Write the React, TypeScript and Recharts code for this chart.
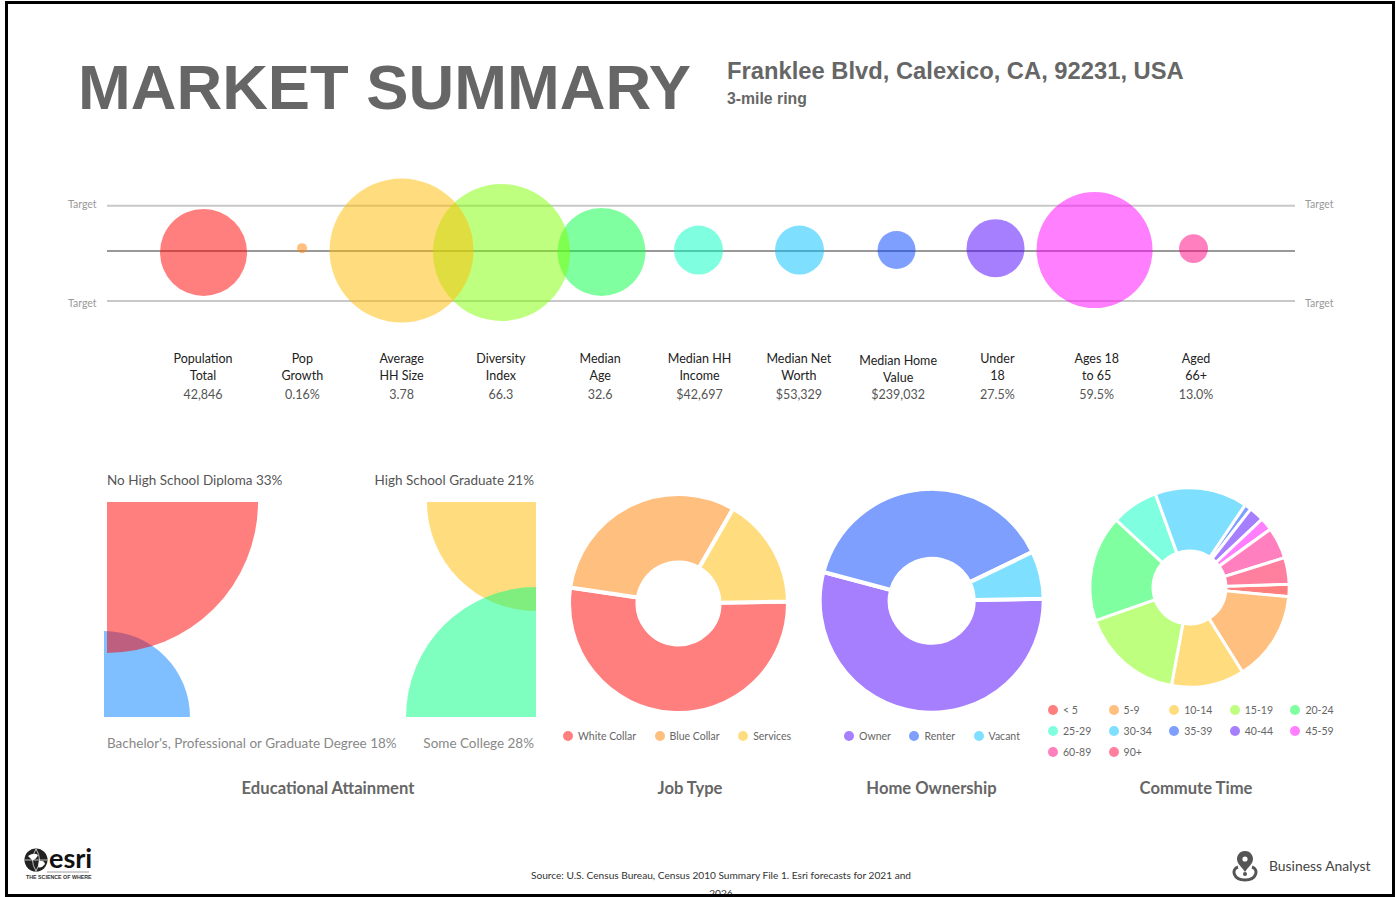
import {
  Cell,
  Legend,
  Pie,
  PieChart,
  ReferenceLine,
  Scatter,
  ScatterChart,
  XAxis,
  YAxis,
  ZAxis,
} from "recharts";

const PALETTE = [
  "#ff0000",
  "#ff7f00",
  "#ffbb00",
  "#80ff00",
  "#00ff40",
  "#00ffc0",
  "#00bfff",
  "#0040ff",
  "#4d00ff",
  "#ff00ff",
  "#ff0080",
  "#ff0040",
];

const LABEL_FONT = "Lato, 'Noto Sans', sans-serif";
const HEAD_FONT = "'Liberation Sans', Arial, sans-serif";

// top strip of bubbles
const metricLine1 = ["Population", "Pop", "Average", "Diversity", "Median", "Median HH", "Median Net", "Median Home", "Under", "Ages 18", "Aged"];
const metricLine2 = ["Total", "Growth", "HH Size", "Index", "Age", "Income", "Worth", "Value", "18", "to 65", "66+"];
const metricValues = ["42,846", "0.16%", "3.78", "66.3", "32.6", "$42,697", "$53,329", "$239,032", "27.5%", "59.5%", "13.0%"];
const metricSlots = [0, 0.995, 2, 3.01, 4.02, 5, 6.02, 7, 8, 9, 10];
const metricLevels = [-0.03, 0.06, 0.01, -0.03, -0.02, 0.02, 0.02, 0.02, 0.06, 0.02, 0.05];
const metricSizes = [1892, 25, 5184, 4692, 1936, 600, 600, 361, 841, 3364, 210];
const targetHigh = 0.95;
const targetLow = -1.05;

// drawn last to first, the earlier bubbles sit on top
const bubbleData = metricLevels
  .map((level, i) => ({ index: i, slot: metricSlots[i], level, size: metricSizes[i] }))
  .reverse();

// bottom charts
const eduNames = ["Bachelor's, Professional or Graduate Degree", "High School Graduate", "No High School Diploma", "Some College"];
const eduValues = [18, 21, 33, 28];

const jobNames = ["White Collar", "Blue Collar", "Services"];
const jobValues = [52.6, 31, 16.4];

const homeNames = ["Owner", "Renter", "Vacant"];
const homeValues = [54.4, 38.7, 6.9];

const commuteNames = ["< 5", "5-9", "10-14", "15-19", "20-24", "25-29", "30-34", "35-39", "40-44", "45-59", "60-89", "90+"];
const commuteValues = [2.0, 14.6, 11.8, 16.7, 17.2, 7.6, 15.0, 1.1, 2.4, 2.1, 5.1, 4.3];

const toRows = (names: string[], values: number[]) =>
  names.map((name, i) => ({ name, value: values[i] }));

function MetricTick({ x, y, payload }: any) {
  const i = payload.value as number;
  const cx = x + i * 0.3 - 0.5;
  const drop = i === 7 ? 2 : 0;
  return (
    <g fontFamily={LABEL_FONT} fontSize={12.5} textAnchor="middle">
      <text x={cx} y={y + 25 + drop} fill="#222">{metricLine1[i]}</text>
      <text x={cx} y={y + 42 + drop} fill="#222">{metricLine2[i]}</text>
      <text x={cx} y={y + 61} fill="#555">{metricValues[i]}</text>
    </g>
  );
}

function Dot({ color }: { color: string }) {
  return (
    <span
      style={{
        display: "inline-block",
        width: 10,
        height: 10,
        borderRadius: "50%",
        background: color,
        opacity: 0.5,
        marginRight: 5,
      }}
    />
  );
}

function RowLegend({ names, colors }: { names: string[]; colors: string[] }) {
  return (
    <div style={{ display: "flex", fontFamily: LABEL_FONT, fontSize: 10.5, color: "#666", whiteSpace: "nowrap" }}>
      {names.map((n, i) => (
        <span key={n} style={{ display: "flex", alignItems: "center", marginRight: 18.5 }}>
          <Dot color={colors[i]} />
          {n}
        </span>
      ))}
    </div>
  );
}

function GridLegend({ names }: { names: string[] }) {
  return (
    <div
      style={{
        display: "grid",
        gridTemplateColumns: "repeat(5, 60.6px)",
        gridAutoRows: "21px",
        fontFamily: LABEL_FONT,
        fontSize: 10.5,
        color: "#666",
      }}
    >
      {names.map((n, i) => (
        <span key={n} style={{ display: "flex", alignItems: "center" }}>
          <Dot color={PALETTE[i]} />
          {n}
        </span>
      ))}
    </div>
  );
}

function Donut({ names, values, colors, left, top, width, height, cx, cy, outer, inner, start, stroke, legend, legendLeft, legendTop }: any) {
  return (
    <div style={{ position: "absolute", left, top }}>
      <PieChart width={width} height={height} margin={{ top: 0, right: 0, bottom: 0, left: 0 }}>
        <Pie
          data={toRows(names, values)}
          dataKey="value"
          nameKey="name"
          cx={cx}
          cy={cy}
          outerRadius={outer}
          innerRadius={inner}
          startAngle={start}
          endAngle={start - 360}
          stroke="#fff"
          strokeWidth={stroke}
          isAnimationActive={false}
        >
          {names.map((n: string, i: number) => (
            <Cell key={n} fill={colors[i]} fillOpacity={0.5} />
          ))}
        </Pie>
        <Legend content={() => legend} wrapperStyle={{ left: legendLeft, top: legendTop, width: "auto", bottom: "auto" }} />
      </PieChart>
    </div>
  );
}

function Label({ left, right, top, children, style }: any) {
  return (
    <div
      style={{
        position: "absolute",
        left,
        right,
        top,
        whiteSpace: "nowrap",
        fontFamily: LABEL_FONT,
        fontSize: 13.5,
        lineHeight: "18px",
        ...style,
      }}
    >
      {children}
    </div>
  );
}

function ChartTitle({ center, children }: any) {
  return (
    <div
      style={{
        position: "absolute",
        left: center - 150,
        width: 300,
        top: 778,
        textAlign: "center",
        fontFamily: LABEL_FONT,
        fontWeight: 700,
        fontSize: 16.6,
        lineHeight: "20px",
        color: "#666",
      }}
    >
      {children}
    </div>
  );
}

function EsriLogo() {
  return (
    <svg style={{ position: "absolute", left: 20, top: 844 }} width={100} height={40}>
      <circle cx={16} cy={16} r={11.5} fill="#222" />
      <path d="M8 12 Q14 8 18 11 Q16 16 12 16 Z M19 17 Q24 16 25 20 Q21 25 18 23 Z" fill="#fff" />
      <path d="M5 16 H27 M16 5 Q9 16 16 27 M16 5 Q23 16 16 27" stroke="#fff" strokeWidth={0.7} fill="none" />
      <text x={29} y={24} fontFamily={LABEL_FONT} fontWeight={700} fontSize={27} fill="#111">esri</text>
      <line x1={27} x2={69} y1={28} y2={28} stroke="#777" strokeWidth={0.7} />
      <text x={6} y={35} fontFamily={HEAD_FONT} fontWeight={700} fontSize={5.3} fill="#333">THE SCIENCE OF WHERE</text>
    </svg>
  );
}

function AnalystIcon() {
  return (
    <svg style={{ position: "absolute", left: 1230, top: 850 }} width={32} height={34}>
      <path d="M15 1 C9 1 7 6 7 9 C7 14 12 17 15 22 C18 17 23 14 23 9 C23 6 21 1 15 1 Z" fill="#555" />
      <circle cx={15} cy={9} r={2.6} fill="#fff" />
      <path d="M8 17 C1 19 3 30 15 30 C27 30 29 19 22 17" fill="none" stroke="#555" strokeWidth={3} />
      <circle cx={15} cy={24} r={2} fill="#555" />
    </svg>
  );
}

export default function App() {
  return (
    <div style={{ position: "absolute", left: 0, top: 0, width: 1396, height: 897, background: "#fff", overflow: "hidden" }}>
      <div style={{ position: "absolute", left: 5, top: 1, width: 1390, height: 896, overflow: "hidden", boxSizing: "border-box", border: "3px solid #000", zIndex: 5, pointerEvents: "none" }} />

      <div style={{ position: "absolute", left: 78, top: 49, fontFamily: HEAD_FONT, fontWeight: 700, fontSize: 63.3, lineHeight: "76px", color: "#666", whiteSpace: "nowrap" }}>
        MARKET SUMMARY
      </div>
      <div style={{ position: "absolute", left: 727, top: 56, fontFamily: HEAD_FONT, fontWeight: 700, fontSize: 23.75, lineHeight: "30px", color: "#666", whiteSpace: "nowrap" }}>
        Franklee Blvd, Calexico, CA, 92231, USA
      </div>
      <div style={{ position: "absolute", left: 727, top: 89, fontFamily: HEAD_FONT, fontWeight: 700, fontSize: 15.8, lineHeight: "20px", color: "#666", whiteSpace: "nowrap" }}>
        3-mile ring
      </div>

      <Label left={68} top={195} style={{ fontSize: 10.5, color: "#999" }}>Target</Label>
      <Label left={68} top={294} style={{ fontSize: 10.5, color: "#999" }}>Target</Label>
      <Label left={1305} top={195} style={{ fontSize: 10.5, color: "#999" }}>Target</Label>
      <Label left={1305} top={294} style={{ fontSize: 10.5, color: "#999" }}>Target</Label>

      <div style={{ position: "absolute", left: 107, top: 170 }}>
        <ScatterChart width={1188} height={240} margin={{ top: 0, right: 0, bottom: 0, left: 0 }}>
          <XAxis
            type="number"
            dataKey="slot"
            domain={[-0.975, 11.025]}
            ticks={metricValues.map((_, i) => i)}
            interval={0}
            axisLine={false}
            tickLine={false}
            height={80}
            tick={<MetricTick />}
            allowDataOverflow
          />
          <YAxis type="number" dataKey="level" domain={[-1.663, 1.705]} hide allowDataOverflow />
          <ZAxis type="number" dataKey="size" domain={[0, 5184]} range={[0, 16286]} />
          <ReferenceLine y={targetHigh} stroke="#c8c8c8" strokeWidth={2} />
          <ReferenceLine y={targetLow} stroke="#c8c8c8" strokeWidth={2} />
          <ReferenceLine y={0} stroke="#999" strokeWidth={2} />
          <Scatter data={bubbleData} isAnimationActive={false}>
            {bubbleData.map((d) => (
              <Cell key={d.index} fill={PALETTE[d.index]} fillOpacity={0.5} />
            ))}
          </Scatter>
        </ScatterChart>
      </div>

      <Label left={107} top={471} style={{ color: "#555" }}>{`${eduNames[2]} ${eduValues[2]}%`}</Label>
      <Label right={862} top={471} style={{ color: "#555" }}>{`${eduNames[1]} ${eduValues[1]}%`}</Label>
      <Label left={107} top={734} style={{ color: "#888" }}>{`${eduNames[0]} ${eduValues[0]}%`}</Label>
      <Label right={862} top={734} style={{ color: "#888" }}>{`${eduNames[3]} ${eduValues[3]}%`}</Label>

      <div style={{ position: "absolute", left: 100, top: 495 }}>
        <PieChart width={445} height={230} margin={{ top: 0, right: 0, bottom: 0, left: 0 }}>
          <Pie data={[{ name: eduNames[0], value: eduValues[0] }]} dataKey="value" cx={4} cy={222} outerRadius={86} startAngle={0} endAngle={90} stroke="none" fill={"#0080ff"} fillOpacity={0.5} isAnimationActive={false} />
          <Pie data={[{ name: eduNames[1], value: eduValues[1] }]} dataKey="value" cx={436} cy={7} outerRadius={109} startAngle={180} endAngle={270} stroke="none" fill={PALETTE[2]} fillOpacity={0.5} isAnimationActive={false} />
          <Pie data={[{ name: eduNames[2], value: eduValues[2] }]} dataKey="value" cx={7} cy={7} outerRadius={151} startAngle={270} endAngle={360} stroke="none" fill={PALETTE[0]} fillOpacity={0.5} isAnimationActive={false} />
          <Pie data={[{ name: eduNames[3], value: eduValues[3] }]} dataKey="value" cx={436} cy={222} outerRadius={130} startAngle={90} endAngle={180} stroke="none" fill={"#00ff80"} fillOpacity={0.5} isAnimationActive={false} />
        </PieChart>
      </div>

      <Donut
        names={jobNames}
        values={jobValues}
        colors={PALETTE.slice(0, 3)}
        left={560}
        top={480}
        width={240}
        height={270}
        cx={118.5}
        cy={123.5}
        outer={109.5}
        inner={41}
        start={1}
        stroke={4}
        legend={<RowLegend names={jobNames} colors={PALETTE.slice(0, 3)} />}
        legendLeft={3}
        legendTop={250}
      />
      <Donut
        names={homeNames}
        values={homeValues}
        colors={[PALETTE[8], PALETTE[7], PALETTE[6]]}
        left={810}
        top={480}
        width={240}
        height={270}
        cx={121.7}
        cy={120.7}
        outer={112}
        inner={42}
        start={1}
        stroke={4}
        legend={<RowLegend names={homeNames} colors={[PALETTE[8], PALETTE[7], PALETTE[6]]} />}
        legendLeft={34}
        legendTop={250}
      />
      <Donut
        names={commuteNames}
        values={commuteValues}
        colors={PALETTE}
        left={1040}
        top={470}
        width={310}
        height={300}
        cx={149.5}
        cy={117.5}
        outer={99.7}
        inner={36.5}
        start={1.9}
        stroke={3}
        legend={<GridLegend names={commuteNames} />}
        legendLeft={8}
        legendTop={229}
      />

      <ChartTitle center={328}>Educational Attainment</ChartTitle>
      <ChartTitle center={690}>Job Type</ChartTitle>
      <ChartTitle center={931.5}>Home Ownership</ChartTitle>
      <ChartTitle center={1196}>Commute Time</ChartTitle>

      <EsriLogo />
      <AnalystIcon />
      <div style={{ position: "absolute", left: 1269, top: 857, fontFamily: LABEL_FONT, fontSize: 13.9, lineHeight: "18px", color: "#444", whiteSpace: "nowrap" }}>
        Business Analyst
      </div>
      <div style={{ position: "absolute", left: 521, top: 866, width: 400, textAlign: "center", fontFamily: LABEL_FONT, fontSize: 10.15, lineHeight: "18px", color: "#333" }}>
        Source: U.S. Census Bureau, Census 2010 Summary File 1. Esri forecasts for 2021 and 2026
      </div>
    </div>
  );
}
